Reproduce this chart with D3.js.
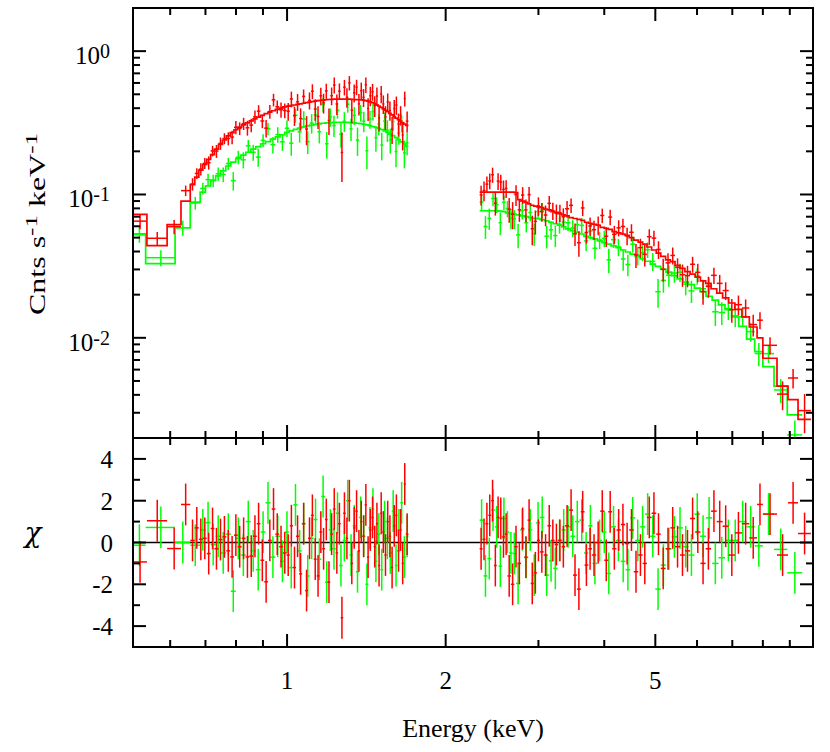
<!DOCTYPE html>
<html><head><meta charset="utf-8">
<script src="https://cdn.jsdelivr.net/npm/d3@7"></script>
<style>body{margin:0;background:#fff} svg{display:block}</style>
</head><body><svg id="c" width="830" height="752"></svg>
<script>
// ---------- DATA ----------
// Red spectrum, low-energy band: bin edges (keV), model (cts/s/keV), chi residuals, relative errors
const redLoEdges = [0.510,0.542,0.592,0.629,0.655,0.668,0.680,0.692,0.704,0.716,0.728,0.741,0.754,0.767,0.780,0.793,0.806,0.820,0.834,0.848,0.862,0.876,0.890,0.905,0.920,0.935,0.950,0.966,0.982,0.998,
 1.012,1.026,1.040,1.054,1.068,1.082,1.096,1.110,1.124,1.138,1.152,1.166,1.180,1.194,1.208,1.222,1.236,1.250,1.264,1.278,1.292,1.306,1.320,1.334,1.348,1.362,1.376,1.390,1.404,1.418,1.432,1.446,1.460,1.474,1.488,1.502,1.516,1.530,1.545,1.560,1.575,1.590,1.605,1.620,1.635,1.650,1.665,1.680,1.700];
const redLoModel = [0.0726,0.044,0.0616,0.090,
 0.117,0.132,0.148,0.162,0.176,0.190,0.207,0.224,0.240,0.256,0.270,0.283,0.295,0.306,0.316,0.326,0.337,0.347,0.356,0.366,0.375,0.384,0.392,0.400,0.408,
 0.413,0.417,0.421,0.425,0.429,0.433,0.437,0.441,0.444,0.448,
 0.451,0.454,0.456,0.458,0.460,0.461,0.462,0.463,0.463,0.463,
 0.463,0.462,0.462,0.461,0.460,0.459,0.458,0.457,0.455,0.452,
 0.448,0.443,0.437,0.430,0.422,0.414,0.405,0.396,
 0.387,0.378,0.368,0.359,0.350,0.341,0.333,0.325,0.317,0.310,0.303];
const redLoChi = [-0.93,1.04,-0.29,1.82,
 0.1,0.7,0.15,0.2,-0.53,0.67,-0.3,0.14,0.27,-0.4,-0.69,0.35,-0.2,0.2,-0.69,-0.65,0.3,0.9,-0.85,-1.88,0.1,1.6,0.4,-0.2,-0.5,
 -0.6,0.8,-1.2,0.3,-1.5,0.9,-2.3,0.2,1.3,-0.8,-1.6,0.5,-0.3,1.1,-1.9,0.4,1.6,-0.5,0.9,-3.6,1.4,0.2,2.0,-1.0,0.7,1.5,-0.4,1.0,0.3,1.8,-0.7,0.6,1.2,-0.2,0.9,-1.1,1.4,0.5,-0.6,1.0,0.3,-1.2,0.8,1.3,-0.4,0.6,-1.0,2.8,0.4];
const redLoRelErr = [0.11,0.12,0.11,0.10,
 0.10,0.09,0.10,0.09,0.10,0.09,0.10,0.10,0.09,0.10,0.10,0.11,0.10,0.10,0.11,0.10,0.11,0.11,0.10,0.11,0.11,0.12,0.11,0.12,0.11,
 0.13,0.14,0.13,0.14,0.14,0.13,0.15,0.14,0.14,0.15,0.14,0.15,0.15,0.14,0.15,0.15,0.16,0.15,0.15,0.16,
 0.15,0.16,0.15,0.16,0.16,0.15,0.16,0.16,0.15,0.16,0.16,0.17,0.16,0.16,0.17,0.16,0.17,0.16,0.17,0.17,
 0.16,0.17,0.17,0.18,0.17,0.17,0.18,0.18,0.18];

// Green spectrum, low-energy band
const grnLoEdges = [0.510,0.539,0.613,0.655,0.684,0.700,0.716,0.732,0.748,0.765,0.782,0.799,0.817,0.835,0.853,0.872,0.891,0.910,0.930,0.950,0.970,0.990,
 1.009,1.028,1.047,1.066,1.085,1.104,1.123,1.142,1.161,1.180,1.199,1.218,1.237,1.256,1.275,1.294,1.313,1.332,1.351,1.370,1.389,1.408,1.427,1.446,1.465,1.484,1.503,1.522,1.541,1.560,1.580,1.600,1.620,1.640,1.660,1.680,1.700];
const grnLoModel = [0.0532,0.0329,0.0586,0.0884,
 0.104,0.115,0.126,0.135,0.146,0.158,0.168,0.178,0.188,0.197,0.207,0.216,0.226,0.234,0.243,0.252,0.261,
 0.271,0.278,0.285,0.291,0.296,0.301,0.305,0.308,0.311,0.314,0.316,0.317,0.318,0.319,0.319,0.319,0.318,0.317,0.316,0.314,
 0.312,0.309,0.306,0.302,0.298,0.294,0.289,0.284,0.278,0.271,0.264,0.257,0.249,0.241,0.233,0.225,0.217];
const grnLoChi = [-0.13,0.72,0.0,-0.13,
 0.6,0.95,-0.1,0.3,-0.5,0.4,-2.33,0.2,-0.6,1.0,-0.4,-1.3,0.5,1.9,-0.7,0.3,-0.9,
 0.5,-1.2,1.8,-0.4,0.9,-1.6,0.2,1.1,-0.8,2.2,-1.9,0.6,-0.3,1.4,-1.1,0.1,2.0,-0.6,0.8,-1.4,
 1.2,0.3,-2.0,0.7,1.6,-0.9,0.4,-1.3,1.0,0.2,-0.5,1.5,-1.1,0.6,1.9,-0.7,0.3];
const grnLoRelErr = [0.12,0.14,0.12,0.10,
 0.10,0.11,0.10,0.11,0.11,0.10,0.11,0.11,0.12,0.11,0.12,0.12,0.11,0.12,0.12,0.13,0.12,
 0.14,0.15,0.14,0.15,0.15,0.14,0.16,0.15,0.15,0.16,0.15,0.16,0.16,0.15,0.16,0.16,0.17,0.16,0.16,0.17,
 0.16,0.17,0.17,0.16,0.17,0.17,0.18,0.17,0.17,0.18,0.18,0.17,0.18,0.19,0.18,0.19,0.19];

// Red spectrum, high-energy band
const redHiEdges = [2.32,2.35,2.38,2.41,2.44,2.47,2.50,2.53,2.56,2.59,2.62,2.66,2.70,2.74,2.78,2.82,2.86,2.90,2.94,2.98,3.02,3.07,3.12,3.17,3.22,3.27,3.32,3.37,3.43,3.49,3.55,3.61,3.67,3.73,3.79,3.86,3.93,4.00,4.07,4.14,4.22,4.30,4.38,4.46,4.55,4.64,4.73,4.82,4.92,5.02,5.12,5.23,5.34,5.45,5.57,5.69,5.82,5.95,6.09,6.23,6.38,6.54,6.71,6.89,7.08,7.30,7.54,7.80,8.00,8.51,8.93,9.33,9.87];
const redHiModel = [0.104,0.104,0.104,0.104,0.104,0.104,0.104,0.104,0.104,0.104,0.104,0.104,0.103,
 0.092,0.090,0.088,0.086,0.084,0.083,0.082,
 0.081,0.079,0.078,0.076,0.075,0.0735,0.072,0.071,0.069,0.068,
 0.067,0.066,0.064,0.063,0.062,0.061,0.059,0.058,0.057,0.055,
 0.054,0.053,0.0518,0.050,0.048,0.0465,0.045,0.043,0.041,0.039,
 0.037,0.035,0.034,0.032,0.0305,0.029,0.0278,0.0265,0.025,0.024,
 0.022,0.0205,0.019,0.0175,0.0158,0.014,0.0119,0.0100,0.0072,0.0046,0.0037,0.0027];
const redHiChi = [-0.3,0.15,0.9,1.3,2.0,-1.1,1.2,1.15,0.27,0.4,
 -1.6,-2.0,-0.2,-1.0,0.67,-0.7,1.07,-1.96,-1.45,0.1,
 -0.45,-0.6,0.8,0.1,-0.1,0.1,-0.2,0.8,1.55,-1.56,
 -2.23,1.47,-1.08,-0.3,-0.6,0.0,1.5,-0.85,1.47,-0.3,
 0.6,0.86,-0.05,0.6,-1.4,-0.6,-1.0,1.2,1.4,0.4,
 -1.24,-0.3,0.7,-0.2,-0.6,-0.4,1.15,0.5,-1.0,-0.3,
 1.5,1.0,0.78,-0.6,0.46,0.9,0.22,1.82,1.36,-0.6,1.9,0.43];
const redHiRelErr = [0.15,0.16,0.15,0.15,0.16,0.15,0.16,0.15,0.16,0.15,
 0.15,0.15,0.16,0.15,0.15,0.16,0.15,0.16,0.15,0.15,
 0.14,0.15,0.14,0.14,0.15,0.14,0.14,0.15,0.14,0.14,
 0.14,0.15,0.14,0.14,0.14,0.15,0.14,0.14,0.15,0.14,
 0.14,0.15,0.14,0.15,0.15,0.14,0.15,0.15,0.15,0.15,
 0.15,0.16,0.15,0.15,0.16,0.16,0.15,0.16,0.16,0.16,
 0.16,0.17,0.16,0.17,0.17,0.17,0.18,0.18,0.17,0.20,0.22,0.35];

// Green spectrum, high-energy band
const grnHiEdges = [2.32,2.36,2.40,2.44,2.48,2.52,2.56,2.60,2.64,2.68,2.72,2.77,2.82,2.87,2.92,2.97,3.02,3.08,3.14,3.20,3.26,3.32,3.38,3.45,3.52,3.59,3.66,3.73,3.80,3.88,3.96,4.04,4.12,4.21,4.30,4.39,4.48,4.58,4.68,4.78,4.89,5.00,5.12,5.24,5.37,5.50,5.64,5.78,5.93,6.08,6.24,6.41,6.59,6.78,6.98,7.20,7.45,7.72,8.00,8.40,8.90,9.50];
const grnHiModel = [0.0770,0.0770,0.0770,0.0770,0.0768,0.0765,0.0760,0.0745,0.0738,0.0730,
 0.0720,0.0710,0.0700,0.0690,0.0682,0.0677,0.0668,0.0655,0.0640,0.0625,
 0.0610,0.0595,0.0575,0.0560,0.0545,0.0530,0.0510,0.0500,0.0490,0.0475,
 0.0462,0.0450,0.0438,0.0425,0.0410,0.0397,0.0383,0.0370,0.0355,0.0342,
 0.0327,0.0315,0.0300,0.0287,0.0272,0.0258,0.0245,0.0235,0.0222,0.0210,
 0.0195,0.0183,0.0170,0.0157,0.0140,0.0120,0.0098,0.0080,0.0063,0.0046,0.0029];
const grnHiChi = [1.07,-1.6,-0.77,1.55,0.75,-1.13,1.15,0.5,-0.5,-0.53,
 -1.96,0.6,-0.72,0.6,-1.56,0.94,1.2,-1.56,-0.88,-1.24,
 0.1,0.6,0.75,0.3,1.0,1.07,-0.5,0.8,-1.0,0.1,
 0.5,-1.48,0.75,0.1,-0.9,-1.3,1.18,0.1,0.75,1.36,
 0.3,-2.23,-1.08,-0.3,0.27,0.7,-0.2,-0.6,1.36,0.3,
 1.18,-1.0,-0.73,0.1,0.1,1.0,0.75,-0.16,1.36,-0.33,-1.45];
const grnHiRelErr = [0.14,0.14,0.15,0.14,0.14,0.15,0.14,0.14,0.15,0.14,
 0.14,0.14,0.13,0.14,0.14,0.13,0.14,0.14,0.13,0.14,
 0.14,0.13,0.14,0.14,0.13,0.14,0.14,0.14,0.14,0.14,
 0.14,0.15,0.14,0.14,0.15,0.14,0.15,0.15,0.14,0.15,
 0.15,0.15,0.15,0.16,0.15,0.16,0.16,0.16,0.16,0.16,
 0.16,0.17,0.16,0.17,0.17,0.17,0.17,0.18,0.17,0.18,0.19];

// axis ticks / labels
const xMajor = [1, 2, 5];
const xMinor = [0.6, 0.7, 0.8, 0.9, 3, 4, 6, 7, 8, 9];
const yMajor = [0.01, 0.1, 1];
const yMajorExp = ["-2", "-1", "0"];
const yMinor = [0.003,0.004,0.005,0.006,0.007,0.008,0.009,0.02,0.03,0.04,0.05,0.06,0.07,0.08,0.09,0.2,0.3,0.4,0.5,0.6,0.7,0.8,0.9];
const rMajor = [-4, -2, 0, 2, 4];
const rMinor = [-3, -1, 1, 3];

// ---------- LAYOUT ----------
const L = 133, R = 813, T = 8, MID = 438, B = 647;
const RED = "#ff0000", GRN = "#00ff00";
const FONT = "'Liberation Serif','Times New Roman',serif";

const x = d3.scaleLog().domain([0.51, 9.96]).range([L, R]);
const y = d3.scaleLog().domain([0.002, 2]).range([MID, T]);
const yr = d3.scaleLinear().domain([-5, 5]).range([B, MID]);

const svg = d3.select("#c");
const defs = svg.append("defs");
defs.append("clipPath").attr("id", "clipTop").append("rect").attr("x", L).attr("y", T).attr("width", R - L).attr("height", MID - T);
defs.append("clipPath").attr("id", "clipBot").append("rect").attr("x", L).attr("y", MID).attr("width", R - L).attr("height", B - MID);

function makeBins(edges, model, chi, rel) {
  const n = Math.min(edges.length - 1, model.length, chi.length, rel.length);
  const out = [];
  for (let i = 0; i < n; i++) {
    const err = model[i] * rel[i];
    out.push({lo: edges[i], hi: edges[i + 1], c: (edges[i] + edges[i + 1]) / 2,
              m: model[i], chi: chi[i], err: err, rate: model[i] + chi[i] * err});
  }
  return out;
}

const sets = [
  {color: GRN, segs: [makeBins(grnLoEdges, grnLoModel, grnLoChi, grnLoRelErr), makeBins(grnHiEdges, grnHiModel, grnHiChi, grnHiRelErr)]},
  {color: RED, segs: [makeBins(redLoEdges, redLoModel, redLoChi, redLoRelErr), makeBins(redHiEdges, redHiModel, redHiChi, redHiRelErr)]}
];

const gTop = svg.append("g").attr("clip-path", "url(#clipTop)");
const gBot = svg.append("g").attr("clip-path", "url(#clipBot)");

gBot.append("line").attr("x1", L).attr("x2", R).attr("y1", yr(0)).attr("y2", yr(0))
  .attr("stroke", "#000").attr("stroke-width", 1.6);

const line = d3.line().x(d => x(d[0])).y(d => y(d[1]));

sets.forEach(s => {
  s.segs.forEach(data => {
    const gt = gTop.append("g").attr("stroke", s.color).attr("stroke-width", 1.5).attr("fill", "none");
    gt.selectAll(null).data(data).join("line")
      .attr("x1", d => x(d.lo)).attr("x2", d => x(d.hi))
      .attr("y1", d => y(d.rate)).attr("y2", d => y(d.rate));
    gt.selectAll(null).data(data).join("line")
      .attr("x1", d => x(d.c)).attr("x2", d => x(d.c))
      .attr("y1", d => y(Math.max(d.rate - d.err, 1e-4))).attr("y2", d => y(d.rate + d.err));
    gt.append("path")
      .attr("d", line(data.flatMap(d => [[d.lo, d.m], [d.hi, d.m]])))
      .attr("stroke-width", 1.7);

    const gb = gBot.append("g").attr("stroke", s.color).attr("stroke-width", 1.5);
    gb.selectAll(null).data(data).join("line")
      .attr("x1", d => x(d.lo)).attr("x2", d => x(d.hi))
      .attr("y1", d => yr(d.chi)).attr("y2", d => yr(d.chi));
    gb.selectAll(null).data(data).join("line")
      .attr("x1", d => x(d.c)).attr("x2", d => x(d.c))
      .attr("y1", d => yr(d.chi - 1)).attr("y2", d => yr(d.chi + 1));
  });
});

// ---------- AXES ----------
const ax = svg.append("g").attr("stroke", "#000").attr("stroke-width", 2).attr("fill", "none");
ax.append("rect").attr("x", L).attr("y", T).attr("width", R - L).attr("height", MID - T);
ax.append("rect").attr("x", L).attr("y", MID).attr("width", R - L).attr("height", B - MID);

const MAJ = 13, MIN = 7;
function xTicks(vals, len) {
  vals.forEach(v => {
    const px = x(v);
    [[T, 1], [MID, -1], [MID, 1], [B, -1]].forEach(([yy, dir]) => {
      ax.append("line").attr("x1", px).attr("x2", px).attr("y1", yy).attr("y2", yy + dir * len);
    });
  });
}
xTicks(xMajor, MAJ); xTicks(xMinor, MIN);

function yTicks(vals, scale, len) {
  vals.forEach(v => {
    const py = scale(v);
    ax.append("line").attr("x1", L).attr("x2", L + len).attr("y1", py).attr("y2", py);
    ax.append("line").attr("x1", R).attr("x2", R - len).attr("y1", py).attr("y2", py);
  });
}
yTicks(yMajor, y, MAJ); yTicks(yMinor, y, MIN);
yTicks(rMajor, yr, MAJ); yTicks(rMinor, yr, MIN);

// ---------- TEXT ----------
const txt = svg.append("g").attr("font-family", FONT).attr("fill", "#000");

xMajor.forEach(v => {
  txt.append("text").attr("x", x(v)).attr("y", 689).attr("text-anchor", "middle")
    .attr("font-size", 25).text(String(v));
});

yMajor.forEach((v, i) => {
  const t = txt.append("text").attr("x", 110).attr("y", y(v) + 13).attr("text-anchor", "end").attr("font-size", 25);
  t.append("tspan").text("10");
  t.append("tspan").attr("dy", -6).attr("font-size", 20).text(yMajorExp[i]);
});

rMajor.forEach(v => {
  txt.append("text").attr("x", 113).attr("y", yr(v) + 9).attr("text-anchor", "end")
    .attr("font-size", 25).text(String(v));
});

txt.append("text").attr("x", (L + R) / 2).attr("y", 737).attr("text-anchor", "middle")
  .attr("font-size", 26).text("Energy (keV)");

const yl = txt.append("text").attr("transform", "translate(45,224) rotate(-90) scale(1,0.7)")
  .attr("text-anchor", "middle").attr("font-size", 32);
yl.append("tspan").text("Cnts s");
yl.append("tspan").attr("dy", -12).attr("font-size", 25).text("-1");
yl.append("tspan").attr("dy", 12).text(" keV");
yl.append("tspan").attr("dy", -12).attr("font-size", 25).text("-1");

txt.append("text").attr("x", 33).attr("y", 542).attr("text-anchor", "middle")
  .attr("font-family", "'DejaVu Serif',serif")
  .attr("font-size", 28).attr("font-style", "italic").text("χ");
</script>
</body></html>
